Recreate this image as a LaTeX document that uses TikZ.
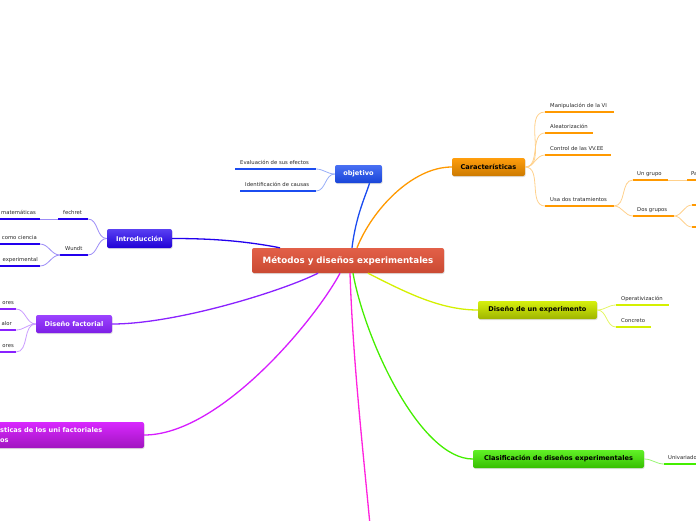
\documentclass[tikz,border=0pt]{standalone}
\usepackage{fontspec}
\setmainfont{DejaVu Sans}
\usetikzlibrary{shadows}
\definecolor{cblue}{HTML}{1B4CF0}
\definecolor{cora}{HTML}{FF9900}
\definecolor{cint}{HTML}{2200EE}
\definecolor{cfac}{HTML}{8A22FF}
\definecolor{cmag}{HTML}{D61CFF}
\definecolor{cpink}{HTML}{FF22DD}
\definecolor{cyel}{HTML}{D4F000}
\definecolor{cgrn}{HTML}{44EE00}
\definecolor{cred}{HTML}{E05238}
\tikzset{
  box/.style={rounded corners=2pt, inner sep=0pt, font=\bfseries\fontsize{6.6}{8}\selectfont,
    drop shadow={opacity=0.25, shadow xshift=0.6pt, shadow yshift=-1pt}},
  lbl/.style={inner sep=0pt, font=\fontsize{5.3}{6}\selectfont, text=black!85},
  ul/.style={line width=2.6pt},
  thin/.style={line width=0.8pt},
  branch/.style={line width=1.3pt},
}
\begin{document}
\begin{tikzpicture}[x=1pt,y=-1pt]
\useasboundingbox (0,0) rectangle (696,520);

% ---------------- main nodes
\node[box, top color=cred!92!white, bottom color=cred!90!black, minimum width=192, minimum height=25,
      text=white, font=\bfseries\fontsize{8.7}{10}\selectfont] (c) at (348,260.5) {Métodos y diseños experimentales};
\node[box, top color=cblue!80!white, bottom color=cblue!90!black, minimum width=47, minimum height=18, text=white] (obj) at (358.5,174) {objetivo};
\node[box, top color=cora!95!white, bottom color=cora!80!black, minimum width=73, minimum height=18] (car) at (488.5,167) {Características};
\node[box, top color=cint!75!white, bottom color=cint!90!black, minimum width=65, minimum height=19, text=white] (intro) at (139.5,238.5) {Introducción};
\node[box, top color=cfac!85!white, bottom color=cfac!90!black, minimum width=76, minimum height=18, text=white] (fac) at (74,324) {Diseño factorial};
\node[box, top color=cmag!95!white, bottom color=cmag!75!black, minimum width=158, minimum height=26] (mag) at (65,435) {};
\node[inner sep=0pt, anchor=north west, align=left, text=white, font=\bfseries\fontsize{6.6}{10}\selectfont] (magt) at (0,427.5) {sticas de los uni factoriales\\os};
\node[box, top color=cyel!95!white, bottom color=cyel!75!black, minimum width=119, minimum height=18] (yel) at (537.5,310) {Diseño de un experimento};
\node[box, top color=cgrn!85!white, bottom color=cgrn!80!black, minimum width=171, minimum height=18] (grn) at (558.5,459) {Clasificación de diseños experimentales};

% ---------------- main branches
\draw[branch, cblue] ([xshift=4pt]c.north) .. controls (356,215) and (366,195) .. ([xshift=11pt]obj.south);
\draw[branch, cora] ([xshift=9pt]c.north) .. controls (372,210) and (412,167) .. (car.west);
\draw[branch, cint] ([xshift=-68pt]c.north) .. controls (240,240) and (205,238.5) .. (intro.east);
\draw[branch, cfac] ([xshift=-30pt]c.south) .. controls (280,292) and (175,324) .. (fac.east);
\draw[branch, cmag] ([xshift=-8pt]c.south) .. controls (315,320) and (220,435) .. (mag.east);
\draw[branch, cpink] ([xshift=2pt]c.south) .. controls (353,360) and (362,440) .. (370,525);
\draw[branch, cgrn] ([xshift=5pt]c.south) .. controls (365,340) and (420,459) .. (grn.west);
\draw[branch, cyel] ([xshift=20pt]c.south) .. controls (405,292) and (440,310) .. (yel.west);

% ---------------- objetivo children
\coordinate (eva) at (235,169); \coordinate (evb) at (316,169);
\coordinate (ida) at (240,191); \coordinate (idb) at (316,191);
\node[lbl, anchor=base west] (evt) at (240,164) {Evaluación de sus efectos};
\node[lbl, anchor=base west] (idt) at (245,186) {Identificación de causas};
\draw[ul, cblue] (eva) -- (evb);
\draw[ul, cblue] (ida) -- (idb);
\draw[thin, cblue!45] (obj.west) to[out=180,in=0] (evb);
\draw[thin, cblue!45] (obj.west) to[out=180,in=0] (idb);

% ---------------- Características children
\coordinate (m1a) at (545,112); \coordinate (m1b) at (614,112);
\coordinate (m2a) at (545,133); \coordinate (m2b) at (593,133);
\coordinate (m3a) at (545,155); \coordinate (m3b) at (611,155);
\coordinate (m4a) at (545,206); \coordinate (m4b) at (614,206);
\node[lbl, anchor=base west] (m1) at (550,107) {Manipulación de la VI};
\node[lbl, anchor=base west] (m2) at (550,128) {Aleatorización};
\node[lbl, anchor=base west] (m3) at (550,150) {Control de las VV.EE};
\node[lbl, anchor=base west] (m4) at (550,201) {Usa dos tratamientos};
\foreach \k in {1,2,3,4}{
  \draw[ul, cora] (m\k a) -- (m\k b);
  \draw[thin, cora!45] (car.east) to[out=0,in=180] (m\k a);
}
\coordinate (u1a) at (633,180); \coordinate (u1b) at (668,180);
\coordinate (u2a) at (633,216); \coordinate (u2b) at (674,216);
\node[lbl, anchor=base west] (u1) at (637,175) {Un grupo};
\node[lbl, anchor=base west] (u2) at (637,211) {Dos grupos};
\draw[ul, cora] (u1a) -- (u1b);
\draw[ul, cora] (u2a) -- (u2b);
\draw[thin, cora!45] (m4b) to[out=0,in=180] (u1a);
\draw[thin, cora!45] (m4b) to[out=0,in=180] (u2a);
\coordinate (paa) at (687,180); \coordinate (pab) at (700,180);
\node[lbl, anchor=base west] (pa) at (691,175) {Pa};
\draw[ul, cora] (paa) -- (pab);
\draw[thin, cora!45] (u1b) -- (paa);
\coordinate (d1a) at (692,205); \coordinate (d1b) at (700,205);
\coordinate (d2a) at (692,227); \coordinate (d2b) at (700,227);
\draw[ul, cora] (d1a) -- (d1b);
\draw[ul, cora] (d2a) -- (d2b);
\draw[thin, cora!45] (u2b) to[out=0,in=180] (d1a);
\draw[thin, cora!45] (u2b) to[out=0,in=180] (d2a);

% ---------------- Introducción children
\coordinate (fea) at (58,219); \coordinate (feb) at (88,219);
\coordinate (wua) at (60,255); \coordinate (wub) at (88,255);
\node[lbl, anchor=base west] (fe) at (63,214) {fechret};
\node[lbl, anchor=base west] (wu) at (65,250) {Wundt};
\draw[ul, cint] (fea) -- (feb);
\draw[ul, cint] (wua) -- (wub);
\draw[thin, cint!45] (intro.west) to[out=180,in=0] (feb);
\draw[thin, cint!45] (intro.west) to[out=180,in=0] (wub);
\coordinate (maa) at (-5,219); \coordinate (mab) at (40,219);
\coordinate (cca) at (-5,244); \coordinate (ccb) at (40,244);
\coordinate (exa) at (-5,266); \coordinate (exb) at (40,266);
\node[lbl, anchor=base east] (ma) at (36,214) {matemáticas};
\node[lbl, anchor=base east] (cc) at (37,239) {como ciencia};
\node[lbl, anchor=base east] (ex) at (38,261) {experimental};
\draw[ul, cint] (maa) -- (mab);
\draw[ul, cint] (cca) -- (ccb);
\draw[ul, cint] (exa) -- (exb);
\draw[thin, cint!45] (fea) -- (mab);
\draw[thin, cint!45] (wua) to[out=180,in=0] (ccb);
\draw[thin, cint!45] (wua) to[out=180,in=0] (exb);

% ---------------- Diseño factorial children
\coordinate (f1a) at (-5,309); \coordinate (f1b) at (16,309);
\coordinate (f2a) at (-5,330); \coordinate (f2b) at (16,330);
\coordinate (f3a) at (-5,352); \coordinate (f3b) at (16,352);
\node[lbl, anchor=base east] (f1) at (14,304) {ores};
\node[lbl, anchor=base east] (f2) at (12,325) {alor};
\node[lbl, anchor=base east] (f3) at (14,347) {ores};
\foreach \k in {1,2,3}{
  \draw[ul, cfac] (f\k a) -- (f\k b);
  \draw[thin, cfac!45] (fac.west) to[out=180,in=0] (f\k b);
}

% ---------------- Diseño de un experimento children
\coordinate (opa) at (616,305); \coordinate (opb) at (669,305);
\coordinate (coa) at (616,327); \coordinate (cob) at (651,327);
\node[lbl, anchor=base west] (op) at (621,300) {Operativización};
\node[lbl, anchor=base west] (co) at (621,322) {Concreto};
\draw[ul, cyel] (opa) -- (opb);
\draw[ul, cyel] (coa) -- (cob);
\draw[thin, cyel!60] (yel.east) to[out=0,in=180] (opa);
\draw[thin, cyel!60] (yel.east) to[out=0,in=180] (coa);

% ---------------- Clasificación children
\coordinate (una) at (664,464); \coordinate (unb) at (700,464);
\node[lbl, anchor=base west] (un) at (668,459) {Univariado};
\draw[ul, cgrn] (una) -- (unb);
\draw[thin, cgrn!55] (grn.east) to[out=0,in=180] (una);
\end{tikzpicture}
\end{document}
